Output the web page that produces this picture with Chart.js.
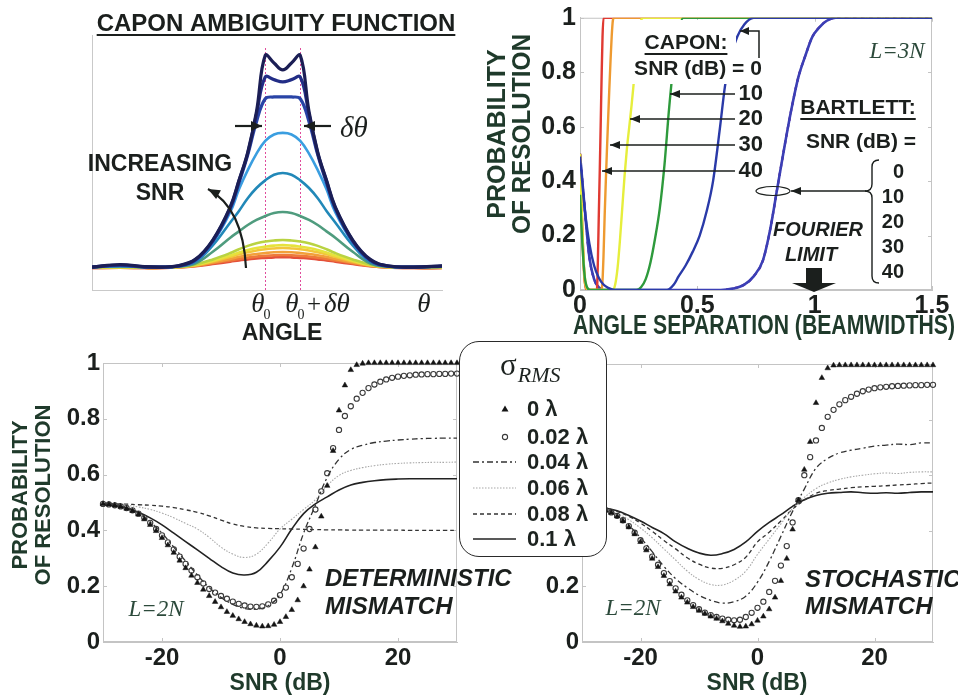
<!DOCTYPE html>
<html lang="en"><head><meta charset="utf-8"><title>Capon resolution figure</title>
<script src="https://cdn.jsdelivr.net/npm/chart.js"></script>
<style>
html,body{margin:0;padding:0;background:#fff}
body{width:958px;height:698px;position:relative;overflow:hidden}
canvas{position:absolute;display:block}
#rmsLegend{position:absolute;left:459px;top:341px;width:148px;height:216px;box-sizing:border-box;border:1.5px solid #2a2a2a;border-radius:20px;background:#fff;z-index:5;font-family:'Liberation Sans',Arial,sans-serif;color:#1d2320}
#rmsLegend .ttl{position:absolute;left:40px;top:6px;height:34px;font-family:'Liberation Serif','Times New Roman',serif;font-size:31px;line-height:34px;white-space:nowrap}
#rmsLegend .ttl i{font-size:22px;position:relative;top:7px;margin-left:1px}
#rmsLegend .row{position:absolute;left:0;width:146px;height:26px}
#rmsLegend .row svg{position:absolute;left:0;top:0}
#rmsLegend .row span{position:absolute;left:67px;top:0;line-height:26px;font-weight:bold;font-size:22px;white-space:nowrap}
</style></head><body>
<canvas id="ambiguity" width="470" height="345" style="left:0;top:0"></canvas>
<canvas id="resolution" width="478" height="340" style="left:480px;top:0"></canvas>
<canvas id="deterministic" width="520" height="363" style="left:0;top:335px"></canvas>
<canvas id="stochastic" width="478" height="363" style="left:480px;top:335px"></canvas>
<div id="rmsLegend"></div>
<script>
// ---------------- Panel A: Capon ambiguity function ----------------
const angleSamples = [0, 8, 15, 20, 24.5, 29.5, 34.5, 39.5, 42, 44.5, 47, 49.5, 52, 54.5, 57, 59.5, 62, 64.5, 67, 69.5, 74.5, 79.5, 84.5, 92, 100];
const thetaMarks = [49.5, 59.5];
const amb1 = [.09, .10, .092, .09, .095, .12, .196, .326, .43, .54, .70, .92, .89, .863, .89, .92, .70, .54, .43, .326, .196, .12, .095, .09, .095];
const amb2 = [.09, .098, .091, .09, .094, .118, .194, .323, .428, .537, .69, .835, .825, .816, .825, .835, .69, .537, .428, .323, .194, .118, .094, .09, .094];
const amb3 = [.09, .096, .09, .09, .093, .116, .19, .318, .42, .53, .66, .75, .757, .757, .757, .75, .66, .53, .42, .318, .19, .116, .093, .09, .093];
const amb4 = [.09, .094, .09, .09, .093, .114, .186, .305, .395, .47, .535, .585, .61, .616, .61, .585, .535, .47, .395, .305, .186, .114, .093, .09, .092];
const amb5 = [.09, .093, .09, .09, .092, .11, .175, .265, .31, .36, .40, .43, .452, .459, .452, .43, .40, .36, .31, .265, .175, .11, .092, .09, .092];
const amb6 = [.09, .092, .09, .09, .092, .104, .15, .205, .23, .255, .275, .29, .302, .306, .302, .29, .275, .255, .23, .205, .15, .104, .092, .09, .091];
const amb7 = [.088, .09, .088, .088, .09, .1, .12, .145, .16, .173, .183, .19, .194, .196, .194, .19, .183, .173, .16, .145, .12, .1, .09, .088, .089];
const amb8 = [.088, .089, .088, .088, .09, .098, .115, .135, .147, .157, .165, .17, .174, .176, .174, .17, .165, .157, .147, .135, .115, .098, .09, .088, .088];
const amb9 = [.087, .088, .087, .087, .089, .097, .112, .13, .14, .148, .155, .16, .163, .165, .163, .16, .155, .148, .14, .13, .112, .097, .089, .087, .088];
const amb10 = [.087, .088, .087, .087, .089, .095, .108, .122, .13, .136, .141, .145, .148, .149, .148, .145, .141, .136, .13, .122, .108, .095, .089, .087, .087];
const amb11 = [.086, .087, .086, .086, .088, .094, .105, .116, .122, .127, .131, .134, .136, .137, .136, .134, .131, .127, .122, .116, .105, .094, .088, .086, .086];
const amb12 = [.086, .087, .086, .086, .088, .093, .102, .111, .116, .12, .124, .126, .128, .129, .128, .126, .124, .12, .116, .111, .102, .093, .088, .086, .086];

// ---------------- Panel B: probability of resolution vs separation ----------------
const sepTicks = [0, 0.5, 1, 1.5];
const probTicks = [0, 0.2, 0.4, 0.6, 0.8, 1];
const caponSnrLevels = [0, 10, 20, 30, 40];
const caponSnr0Sep = [0, 0.02, 0.04, 0.06, 0.08, 0.1, 0.12, 0.15, 0.37, 0.4, 0.42, 0.45, 0.48, 0.51, 0.54, 0.567, 0.597, 0.618, 0.64, 0.67, 0.7, 0.74, 1.5];
const caponSnr0Prob = [0.49, 0.3, 0.17, 0.09, 0.045, 0.02, 0.008, 0, 0, 0.02, 0.05, 0.09, 0.14, 0.2, 0.29, 0.4, 0.6, 0.75, 0.85, 0.93, 0.975, 1, 1];
const caponSnr10Sep = [0, 0.01, 0.02, 0.03, 0.045, 0.24, 0.26, 0.28, 0.3, 0.32, 0.34, 0.36, 0.38, 0.4, 0.42, 0.44, 1.5];
const caponSnr10Prob = [0.35, 0.17, 0.05, 0.01, 0, 0, 0.01, 0.04, 0.1, 0.19, 0.3, 0.46, 0.67, 0.84, 0.95, 1, 1];
const caponSnr20Sep = [0, 0.01, 0.02, 0.04, 0.14, 0.15, 0.16, 0.17, 0.18, 0.19, 0.2, 0.21, 0.22, 0.23, 0.24, 0.25, 0.26, 0.27, 1.5];
const caponSnr20Prob = [0.5, 0.22, 0.05, 0, 0, 0.02, 0.08, 0.18, 0.3, 0.42, 0.52, 0.6, 0.68, 0.77, 0.86, 0.94, 0.99, 1, 1];
const caponSnr30Sep = [0, 0.01, 0.02, 0.035, 0.09, 0.095, 0.1, 0.105, 0.11, 0.115, 0.12, 0.125, 0.13, 0.135, 0.14, 0.145, 1.5];
const caponSnr30Prob = [0.5, 0.2, 0.03, 0, 0, 0.02, 0.12, 0.27, 0.4, 0.52, 0.63, 0.74, 0.84, 0.93, 0.99, 1, 1];
const caponSnr40Sep = [0, 0.01, 0.02, 0.03, 0.072, 0.076, 0.08, 0.084, 0.088, 0.092, 0.096, 0.1, 1.5];
const caponSnr40Prob = [0.5, 0.22, 0.04, 0, 0, 0.1, 0.27, 0.43, 0.6, 0.78, 0.93, 1, 1];
const bartlettSep = [0, 0.02, 0.04, 0.06, 0.08, 0.1, 0.6, 0.65, 0.7, 0.74, 0.78, 0.81, 0.84, 0.87, 0.9, 0.93, 0.96, 0.99, 1.02, 1.05, 1.09, 1.5];
const bartlettProb = [0.5, 0.3, 0.12, 0.04, 0.01, 0, 0, 0.005, 0.02, 0.05, 0.11, 0.22, 0.37, 0.52, 0.66, 0.78, 0.86, 0.93, 0.965, 0.988, 1, 1];

// ---------------- Panels C/D: probability of resolution vs SNR ----------------
const snrTicks = [-20, 0, 20];
const rmsLabels = ['0 λ', '0.02 λ', '0.04 λ', '0.06 λ', '0.08 λ', '0.1 λ'];
const snrFine = [-30, -29, -28, -27, -26, -25, -24, -23, -22, -21, -20, -19, -18, -17, -16, -15, -14, -13, -12, -11, -10, -9, -8, -7, -6, -5, -4, -3, -2, -1, 0, 1, 2, 3, 4, 5, 6, 7, 8, 9, 10, 11, 12, 13, 14, 15, 16, 17, 18, 19, 20, 21, 22, 23, 24, 25, 26, 27, 28, 29, 30];
const snrCoarse = [-30, -28, -26, -24, -22, -20, -18, -16, -14, -12, -10, -8, -6, -4, -2, 0, 2, 4, 6, 8, 10, 12, 14, 16, 18, 20, 22, 24, 26, 28, 30];

const detRms0 = [.495, .493, .49, .485, .478, .47, .457, .44, .42, .398, .373, .347, .32, .292, .265, .238, .212, .188, .165, .144, .125, .108, .094, .082, .072, .064, .059, .056, .057, .062, .072, .09, .115, .15, .2, .26, .34, .45, .56, .685, .83, .92, .975, .993, .998, 1, 1, 1, 1, 1, 1, 1, 1, 1, 1, 1, 1, 1, 1, 1, 1];
const detRms002 = [.495, .493, .49, .486, .48, .472, .46, .445, .427, .405, .382, .357, .332, .306, .28, .256, .232, .21, .19, .177, .165, .155, .145, .137, .131, .127, .126, .128, .135, .148, .168, .195, .232, .28, .335, .405, .475, .54, .605, .695, .76, .81, .845, .872, .893, .91, .923, .933, .941, .947, .951, .954, .956, .958, .959, .96, .96, .961, .961, .962, .962];
const detRms004 = [.495, .49, .48, .462, .43, .39, .34, .29, .24, .195, .16, .135, .12, .118, .13, .17, .265, .39, .49, .59, .655, .69, .705, .715, .72, .724, .727, .729, .73, .731, .731];
const detRms006 = [.495, .494, .49, .484, .475, .462, .445, .425, .405, .375, .34, .315, .303, .315, .355, .405, .44, .475, .51, .56, .597, .615, .625, .632, .637, .64, .642, .643, .644, .644, .645];
const detRms008 = [.495, .495, .494, .492, .49, .487, .482, .474, .465, .452, .437, .423, .414, .409, .407, .406, .405, .404, .403, .402, .402, .401, .401, .401, .401, .401, .4, .4, .4, .4, .4];
const detRms01 = [.495, .49, .48, .465, .445, .42, .39, .36, .33, .3, .27, .247, .24, .25, .29, .34, .405, .46, .495, .52, .545, .563, .572, .578, .582, .584, .585, .585, .585, .585, .585];

const stoRms0 = [.49, .488, .485, .48, .474, .465, .452, .435, .413, .388, .36, .33, .3, .27, .238, .208, .182, .16, .142, .126, .113, .102, .092, .084, .075, .066, .059, .055, .056, .064, .077, .092, .118, .16, .22, .3, .405, .51, .62, .72, .86, .95, .985, .995, .996, .996, .996, .996, .996, .996, .996, .996, .996, .996, .996, .996, .996, .996, .996, .996, .996];
const stoRms002 = [.49, .488, .485, .48, .474, .466, .454, .438, .417, .393, .366, .337, .307, .278, .248, .219, .193, .17, .15, .133, .118, .106, .097, .09, .084, .08, .078, .08, .09, .105, .123, .145, .18, .22, .275, .345, .43, .51, .6, .665, .725, .77, .81, .835, .855, .87, .882, .893, .902, .908, .913, .916, .918, .92, .921, .922, .923, .924, .924, .925, .925];
const stoRms004 = [.49, .486, .475, .455, .42, .375, .325, .272, .228, .195, .168, .15, .14, .145, .165, .215, .29, .38, .47, .55, .625, .66, .68, .69, .697, .705, .708, .712, .71, .716, .716];
const stoRms006 = [.49, .487, .478, .462, .44, .41, .375, .335, .295, .255, .225, .207, .205, .222, .255, .315, .37, .425, .48, .52, .552, .572, .585, .594, .6, .605, .608, .606, .61, .612, .612];
const stoRms008 = [.49, .488, .482, .47, .452, .428, .398, .365, .335, .303, .28, .266, .265, .278, .305, .36, .395, .435, .478, .51, .535, .545, .55, .555, .558, .56, .562, .565, .567, .57, .572];
const stoRms01 = [.49, .488, .482, .472, .455, .435, .412, .39, .36, .337, .32, .312, .318, .333, .36, .398, .43, .458, .488, .512, .527, .535, .538, .54, .537, .535, .537, .535, .538, .54, .54];

// ---------------- styles ----------------
const SANS = "'Liberation Sans', Arial, Helvetica, sans-serif";
const NARROW = "'Liberation Sans Narrow', 'Arial Narrow', 'Liberation Sans', Arial, sans-serif";
const SERIF = "'Liberation Serif', 'Times New Roman', Times, serif";
const INK = '#1b1f1d', TITLE_INK = '#1f3a2b', NOTE_INK = '#2c4a3b', FRAME = '#c4c4c4';
const ambiguityColors = ['#1b1e55', '#222d86', '#2944a6', '#3a9ee0', '#2188b8', '#4f9c7e', '#b9d342', '#e6e23c', '#f2c63a', '#f2a03a', '#ee7a3a', '#e4503a'];
const caponColors = ['#2a3aa8', '#2e9a3c', '#e6ee3c', '#ee9a30', '#e03a32'];
const bartlettStyles = [
  {c: '#3b3fb5', d: [], w: 2.6}, {c: '#7a3fb0', d: [4, 4], w: 2.2}, {c: '#b04aa8', d: [3, 5], w: 2},
  {c: '#d0508f', d: [2, 6], w: 2}, {c: '#e0506a', d: [1.5, 4], w: 1.8}];
const rmsStyles = [
  {kind: 'tri'}, {kind: 'circ'},
  {kind: 'line', c: '#333', d: [6, 3, 2, 3], w: 1.3},
  {kind: 'line', c: '#a8a8a8', d: [1.5, 1.5], w: 1.1},
  {kind: 'line', c: '#333', d: [4, 3], w: 1.3},
  {kind: 'line', c: '#222', d: [], w: 1.6}];

// ---------------- annotation plugin ----------------
function arrowHead(ctx, x1, y1, x2, y2, len, half) {
  const a = Math.atan2(y2 - y1, x2 - x1), c = Math.cos(a), s = Math.sin(a);
  ctx.setLineDash([]);
  ctx.beginPath();
  ctx.moveTo(x2, y2);
  ctx.lineTo(x2 - len * c + half * s, y2 - len * s - half * c);
  ctx.lineTo(x2 - len * c - half * s, y2 - len * s + half * c);
  ctx.closePath(); ctx.fill();
}
function drawItems(chart, items) {
  const ctx = chart.ctx, off = chart.options.plugins.notes.offset;
  ctx.save();
  ctx.translate(-off[0], -off[1]);
  items.forEach(it => {
    ctx.save();
    const col = it.color || INK;
    ctx.strokeStyle = col; ctx.fillStyle = col; ctx.lineWidth = it.lw || 1.5;
    ctx.setLineDash(it.dash || []);
    if (it.t === 'box') { ctx.fillStyle = '#fff'; ctx.fillRect(it.x, it.y, it.w, it.h); }
    else if (it.t === 'text') {
      ctx.font = it.font; ctx.textAlign = it.align || 'left'; ctx.textBaseline = 'middle';
      ctx.translate(it.x, it.y);
      if (it.rot) ctx.rotate(it.rot);
      ctx.scale(it.sx || 1, it.sy || 1);
      if (it.mw) ctx.fillText(it.s, 0, 0, it.mw); else ctx.fillText(it.s, 0, 0);
      if (it.ul) {
        let m = ctx.measureText(it.s).width; if (it.mw) m = Math.min(m, it.mw);
        const a = it.align || 'left';
        const x0 = a === 'center' ? -m / 2 : (a === 'right' ? -m : 0);
        ctx.fillRect(x0, it.ul, m, it.ulw || 2);
      }
    } else if (it.t === 'poly') {
      const p = it.pts, n = p.length;
      ctx.beginPath();
      p.forEach((q, i) => i ? ctx.lineTo(q[0], q[1]) : ctx.moveTo(q[0], q[1]));
      ctx.stroke();
      if (it.head) arrowHead(ctx, p[n - 2][0], p[n - 2][1], p[n - 1][0], p[n - 1][1], it.head, it.half || 4);
    } else if (it.t === 'curve') {
      ctx.beginPath(); ctx.moveTo(it.p0[0], it.p0[1]);
      ctx.quadraticCurveTo(it.c[0], it.c[1], it.p1[0], it.p1[1]); ctx.stroke();
      arrowHead(ctx, it.c[0], it.c[1], it.p1[0], it.p1[1], it.head, it.half);
    } else if (it.t === 'ellipse') {
      ctx.beginPath(); ctx.ellipse(it.cx, it.cy, it.rx, it.ry, 0, 0, Math.PI * 2); ctx.stroke();
    } else if (it.t === 'brace') {
      const {x, y1, ym, y2} = it, r = 7;
      ctx.beginPath();
      ctx.moveTo(x + r, y1); ctx.quadraticCurveTo(x, y1, x, y1 + r);
      ctx.lineTo(x, ym - r); ctx.quadraticCurveTo(x, ym, x - r, ym);
      ctx.quadraticCurveTo(x, ym, x, ym + r);
      ctx.lineTo(x, y2 - r); ctx.quadraticCurveTo(x, y2, x + r, y2);
      ctx.stroke();
    } else if (it.t === 'fat') {
      ctx.fillRect(it.x - 8, it.y1, 16, 15);
      ctx.beginPath(); ctx.moveTo(it.x - 22, it.y1 + 15); ctx.lineTo(it.x + 22, it.y1 + 15); ctx.lineTo(it.x, it.y2);
      ctx.closePath(); ctx.fill();
    }
    ctx.restore();
  });
  ctx.restore();
}
const notesPlugin = {
  id: 'notes',
  beforeDatasetsDraw(chart, args, opts) {
    const ctx = chart.ctx, a = chart.chartArea;
    if (opts.frame) {
      const {x, y} = chart.scales;
      ctx.save(); ctx.strokeStyle = FRAME; ctx.lineWidth = 1;
      ctx.strokeRect(a.left + 0.5, a.top + 0.5, a.right - a.left - 1, a.bottom - a.top - 1);
      ctx.beginPath();
      x.ticks.forEach(t => { const p = Math.round(x.getPixelForValue(t.value)) + 0.5;
        ctx.moveTo(p, a.bottom); ctx.lineTo(p, a.bottom - 4); ctx.moveTo(p, a.top); ctx.lineTo(p, a.top + 4); });
      y.ticks.forEach(t => { const p = Math.round(y.getPixelForValue(t.value)) + 0.5;
        ctx.moveTo(a.left, p); ctx.lineTo(a.left + 4, p); ctx.moveTo(a.right, p); ctx.lineTo(a.right - 4, p); });
      ctx.stroke(); ctx.restore();
    }
    if (opts.vlines) {
      ctx.save(); ctx.strokeStyle = '#e04c9c'; ctx.lineWidth = 1; ctx.setLineDash([2, 2]);
      opts.vlines.values.forEach(v => {
        const p = Math.round(chart.scales.x.getPixelForValue(v)) + 0.5;
        ctx.beginPath(); ctx.moveTo(p, opts.vlines.y1 - opts.offset[1]); ctx.lineTo(p, a.bottom); ctx.stroke();
      });
      ctx.restore();
    }
  },
  afterDatasetsDraw(chart, args, opts) { if (opts.items) drawItems(chart, opts.items); }
};

function tickFont(size, fam) { return {family: fam || NARROW, size: size, weight: 'bold', lineHeight: 1.1}; }
function baseChart(id, offset, padding, scales, datasets, notes) {
  return new Chart(document.getElementById(id), {
    type: 'line',
    data: {datasets: datasets},
    options: {
      responsive: false, animation: false, devicePixelRatio: 1, events: [],
      layout: {padding: padding},
      plugins: {legend: {display: false}, tooltip: {enabled: false}, notes: Object.assign({offset: offset}, notes)},
      scales: scales
    },
    plugins: [notesPlugin]
  });
}
const toXY = (xs, ys) => ys.map((v, i) => ({x: xs[i], y: v}));
const T = (s, x, y, font, extra) => Object.assign({t: 'text', s, x, y, font}, extra || {});
const ROT = -Math.PI / 2;

// ---------- Panel A ----------
const ambiguityCurves = [amb1, amb2, amb3, amb4, amb5, amb6, amb7, amb8, amb9, amb10, amb11, amb12];
baseChart('ambiguity', [0, 0], {left: 92, right: 28, top: 35, bottom: 55}, {
  x: {type: 'linear', min: 0, max: 100, grid: {display: false}, ticks: {display: false}, border: {display: true, color: '#c9c9c9'}, afterFit: s => { s.height = 0; }},
  y: {type: 'linear', min: 0, max: 1, grid: {display: false}, ticks: {display: false}, border: {display: true, color: '#c9c9c9'}, afterFit: s => { s.width = 0; }}
}, ambiguityCurves.map((vals, i) => ({
  data: toXY(angleSamples, vals), borderColor: ambiguityColors[i], borderWidth: i < 3 ? 3.2 : 2.6,
  pointRadius: 0, tension: 0.4, fill: false
})), {
  vlines: {values: thetaMarks, y1: 48},
  items: [
    T('CAPON AMBIGUITY FUNCTION', 276, 24, `bold 24px ${SANS}`, {align: 'center', ul: 10, ulw: 2}),
    T('INCREASING', 160, 165, `bold 23px ${SANS}`, {align: 'center'}),
    T('SNR', 160, 194, `bold 23px ${SANS}`, {align: 'center'}),
    {t: 'curve', p0: [246, 268], c: [243, 208], p1: [208, 189], head: 12, half: 5, lw: 2.2},
    {t: 'poly', pts: [[235, 126], [262, 126]], head: 11, half: 5, lw: 2.2},
    {t: 'poly', pts: [[331, 126], [304, 126]], head: 11, half: 5, lw: 2.2},
    T('δθ', 340, 129, `italic 29px ${SERIF}`),
    T('θ', 258, 305, `italic 27px ${SERIF}`, {align: 'center'}),
    T('0', 267, 315, `14px ${SERIF}`, {align: 'center'}),
    T('θ', 292, 305, `italic 27px ${SERIF}`, {align: 'center'}),
    T('0', 301, 315, `14px ${SERIF}`, {align: 'center'}),
    T('+', 314, 305, `25px ${SERIF}`, {align: 'center'}),
    T('δθ', 324, 305, `italic 27px ${SERIF}`),
    T('θ', 424, 305, `italic 27px ${SERIF}`, {align: 'center'}),
    T('ANGLE', 282, 334, `bold 23px ${SANS}`, {align: 'center'})
  ]
});

// ---------- Panel B ----------
const caponSep = [caponSnr0Sep, caponSnr10Sep, caponSnr20Sep, caponSnr30Sep, caponSnr40Sep];
const caponProb = [caponSnr0Prob, caponSnr10Prob, caponSnr20Prob, caponSnr30Prob, caponSnr40Prob];
const resolutionSets = [];
caponSnrLevels.forEach((snr, i) => resolutionSets.push({
  label: 'Capon ' + snr + ' dB', data: toXY(caponSep[i], caponProb[i]), borderColor: caponColors[i],
  borderWidth: 2.4, pointRadius: 0, cubicInterpolationMode: 'monotone', fill: false
}));
caponSnrLevels.forEach((snr, i) => resolutionSets.push({
  label: 'Bartlett ' + snr + ' dB', data: toXY(bartlettSep, bartlettProb), borderColor: bartlettStyles[i].c,
  borderDash: bartlettStyles[i].d, borderWidth: bartlettStyles[i].w, pointRadius: 0, cubicInterpolationMode: 'monotone', fill: false
}));
baseChart('resolution', [480, 0], {left: 0, right: 26, top: 13, bottom: 0}, {
  x: {type: 'linear', min: 0, max: 1.5, afterBuildTicks: s => { s.ticks = sepTicks.map(v => ({value: v})); },
      grid: {display: false, drawTicks: false}, border: {display: true, color: FRAME},
      ticks: {font: tickFont(25), color: INK, padding: 2, maxRotation: 0, autoSkip: false, callback: v => String(v)},
      afterFit: s => { s.height = 50; }},
  y: {type: 'linear', min: 0, max: 1, afterBuildTicks: s => { s.ticks = probTicks.map(v => ({value: v})); },
      grid: {display: false, drawTicks: false}, border: {display: true, color: FRAME},
      ticks: {font: tickFont(25), color: INK, padding: 4, autoSkip: false, callback: v => String(v)},
      afterFit: s => { s.width = 100; }}
}, resolutionSets, {
  frame: true,
  items: [
    {t: 'box', x: 629, y: 20, w: 107, h: 64},
    T('CAPON:', 686, 43, `bold 21px ${SANS}`, {align: 'center', ul: 10, ulw: 2}),
    T('SNR (dB) = 0', 698, 69, `bold 21px ${SANS}`, {align: 'center'}),
    {t: 'poly', pts: [[759, 58], [759, 31], [740, 31]], head: 9, half: 4, lw: 1.5},
    T('10', 763, 94, `bold 22px ${SANS}`, {align: 'right'}),
    {t: 'poly', pts: [[735, 94], [670, 94]], head: 10, half: 4},
    T('20', 763, 119, `bold 22px ${SANS}`, {align: 'right'}),
    {t: 'poly', pts: [[735, 119], [630, 119]], head: 10, half: 4},
    T('30', 763, 145, `bold 22px ${SANS}`, {align: 'right'}),
    {t: 'poly', pts: [[735, 145], [610, 145]], head: 10, half: 4},
    T('40', 763, 171, `bold 22px ${SANS}`, {align: 'right'}),
    {t: 'poly', pts: [[735, 171], [602, 171]], head: 10, half: 4},
    T('L=3N', 897, 52, `italic 23px ${SERIF}`, {align: 'center', color: NOTE_INK}),
    T('BARTLETT:', 858, 108, `bold 21px ${SANS}`, {align: 'center', ul: 10, ulw: 2}),
    T('SNR (dB) =', 861, 142, `bold 21px ${SANS}`, {align: 'center'}),
    {t: 'brace', x: 872, y1: 160, ym: 191, y2: 283, lw: 1.4},
    T('0', 904, 172, `bold 20px ${SANS}`, {align: 'right'}),
    T('10', 904, 197, `bold 20px ${SANS}`, {align: 'right'}),
    T('20', 904, 222, `bold 20px ${SANS}`, {align: 'right'}),
    T('30', 904, 247, `bold 20px ${SANS}`, {align: 'right'}),
    T('40', 904, 272, `bold 20px ${SANS}`, {align: 'right'}),
    {t: 'ellipse', cx: 773, cy: 191, rx: 17, ry: 4.5, lw: 1.2},
    {t: 'poly', pts: [[866, 191], [791, 191]], head: 10, half: 4},
    T('FOURIER', 818, 230, `italic bold 20px ${SANS}`, {align: 'center'}),
    T('LIMIT', 811, 255, `italic bold 20px ${SANS}`, {align: 'center'}),
    {t: 'fat', x: 814, y1: 268, y2: 292},
    T('ANGLE SEPARATION (BEAMWIDTHS)', 764, 327, `bold 27px ${SANS}`, {align: 'center', mw: 382, color: TITLE_INK}),
    T('PROBABILITY', 498, 134, `bold 25px ${SANS}`, {align: 'center', rot: ROT, color: TITLE_INK}),
    T('OF RESOLUTION', 523, 134, `bold 25px ${SANS}`, {align: 'center', rot: ROT, mw: 200, color: TITLE_INK})
  ]
});

// ---------- Panels C/D ----------
function snrSets(series) {
  return series.map((vals, i) => {
    const st = rmsStyles[i];
    if (st.kind === 'tri') return {label: rmsLabels[i], data: toXY(snrFine, vals), showLine: false, pointStyle: 'triangle',
      pointRadius: 3.2, pointBackgroundColor: '#151515', pointBorderColor: '#151515', pointBorderWidth: 0.5, clip: false};
    if (st.kind === 'circ') return {label: rmsLabels[i], data: toXY(snrFine, vals), showLine: false, pointStyle: 'circle',
      pointRadius: 2.6, pointBackgroundColor: 'rgba(255,255,255,0)', pointBorderColor: '#3a3a3a', pointBorderWidth: 1.1, clip: false};
    return {label: rmsLabels[i], data: toXY(snrCoarse, vals), borderColor: st.c, borderDash: st.d, borderWidth: st.w,
      pointRadius: 0, tension: 0.4, fill: false};
  });
}
function snrScales(yWidth) {
  return {
    x: {type: 'linear', min: -30, max: 30, afterBuildTicks: s => { s.ticks = snrTicks.map(v => ({value: v})); },
        grid: {display: false, drawTicks: false}, border: {display: true, color: FRAME},
        ticks: {font: tickFont(24), color: INK, padding: 3, maxRotation: 0, autoSkip: false, callback: v => String(v)},
        afterFit: s => { s.height = 56; }},
    y: {type: 'linear', min: 0, max: 1, afterBuildTicks: s => { s.ticks = probTicks.map(v => ({value: v})); },
        grid: {display: false, drawTicks: false}, border: {display: true, color: FRAME},
        ticks: {font: tickFont(24), color: INK, padding: 3, autoSkip: false, callback: v => String(v)},
        afterFit: s => { s.width = yWidth; }}
  };
}
baseChart('deterministic', [0, 335], {left: 0, right: 63, top: 28, bottom: 0}, snrScales(103),
  snrSets([detRms0, detRms002, detRms004, detRms006, detRms008, detRms01]), {
  frame: true,
  items: [
    T('DETERMINISTIC', 325, 579, `italic bold 24px ${SANS}`),
    T('MISMATCH', 325, 607, `italic bold 24px ${SANS}`),
    T('L=2N', 156, 610, `italic 23px ${SERIF}`, {align: 'center', color: NOTE_INK}),
    T('SNR (dB)', 280, 684, `bold 23px ${SANS}`, {align: 'center', color: TITLE_INK}),
    T('PROBABILITY', 21, 495, `bold 22px ${SANS}`, {align: 'center', rot: ROT, color: TITLE_INK}),
    T('OF RESOLUTION', 44, 495, `bold 22px ${SANS}`, {align: 'center', rot: ROT, color: TITLE_INK})
  ]
});
baseChart('stochastic', [480, 335], {left: 0, right: 25, top: 29, bottom: 0}, snrScales(102),
  snrSets([stoRms0, stoRms002, stoRms004, stoRms006, stoRms008, stoRms01]), {
  frame: true,
  items: [
    T('STOCHASTIC', 805, 580, `italic bold 24px ${SANS}`),
    T('MISMATCH', 805, 607, `italic bold 24px ${SANS}`),
    T('L=2N', 633, 609, `italic 23px ${SERIF}`, {align: 'center', color: NOTE_INK}),
    T('SNR (dB)', 757, 684, `bold 23px ${SANS}`, {align: 'center', color: TITLE_INK})
  ]
});

// ---------- sigma_RMS legend (HTML) ----------
(function buildLegend() {
  const box = document.getElementById('rmsLegend');
  const ttl = document.createElement('div');
  ttl.className = 'ttl';
  ttl.innerHTML = 'σ<i>RMS</i>';
  box.appendChild(ttl);
  const rowCenters = [67, 95, 120, 146, 172, 197];
  rmsLabels.forEach((lab, i) => {
    const st = rmsStyles[i];
    const row = document.createElement('div');
    row.className = 'row';
    row.style.top = (rowCenters[i] - 13) + 'px';
    let sample = '';
    if (st.kind === 'tri') sample = '<polygon points="45,9.5 48.5,15.5 41.5,15.5" fill="#151515"/>';
    else if (st.kind === 'circ') sample = '<circle cx="45" cy="13" r="2.6" fill="none" stroke="#3a3a3a" stroke-width="1.1"/>';
    else sample = `<line x1="13" y1="13" x2="56" y2="13" stroke="${st.c}" stroke-width="${st.w}" stroke-dasharray="${st.d.join(',') || 'none'}"/>`;
    row.innerHTML = `<svg width="64" height="26" viewBox="0 0 64 26">${sample}</svg><span>${lab}</span>`;
    box.appendChild(row);
  });
})();
</script>
</body></html>
